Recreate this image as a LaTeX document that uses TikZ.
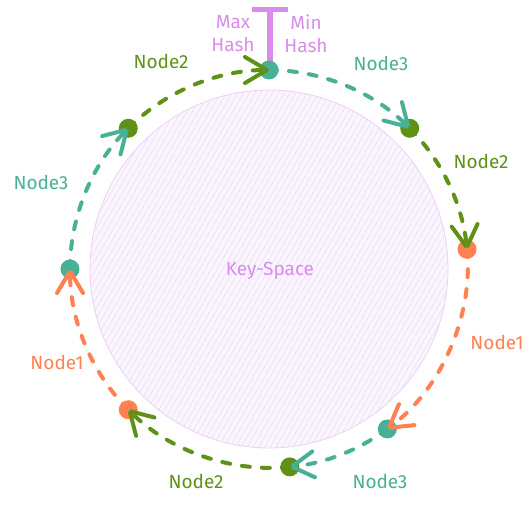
\documentclass[tikz,border=0pt]{standalone}
\usepackage{fontspec}
\setmainfont{Fira Sans}
\usetikzlibrary{arrows.meta,patterns.meta}
\definecolor{tealn}{HTML}{48B094}
\definecolor{oliven}{HTML}{5E9116}
\definecolor{coraln}{HTML}{FF8050}
\definecolor{lilac}{HTML}{D98CEC}
\definecolor{keyfill}{HTML}{FBF5FE}
\definecolor{keyline}{HTML}{F0CCF8}
\definecolor{keyhatch}{HTML}{E2DCF8}

\begin{document}
\begin{tikzpicture}[x=1pt,y=1pt,
  lbl/.style={font=\fontsize{19}{23}\selectfont},
  vdot/.style={circle,fill=#1,inner sep=0pt,minimum size=19pt},
  hop/.style={#1,line width=4pt,line cap=round,dash pattern=on 8pt off 12pt,
    -{Straight Barb[length=22pt,width=26pt,round]},looseness=0.87}]
\useasboundingbox (-269,-236) rectangle (263,269);
% key space
\draw[keyline,fill=keyfill,line width=0.8pt] (0,0) circle (179);
\fill[pattern={Lines[angle=60,distance=5pt,line width=0.5pt]},pattern color=keyhatch] (0,0) circle (178.5);
\node[lbl,text=lilac] (ks) at (1,-2) {Key-Space};
% max/min hash marker
\coordinate (tl) at (-17,259); \coordinate (tr) at (19,259); \coordinate (tm) at (1,259);
\draw[lilac,line width=5pt] (tl) -- (tr);
\draw[lilac,line width=6pt] (tm) -- (1,198);
\node[lbl,text=lilac,align=center] (maxh) at (-36,235) {Max\\Hash};
\node[lbl,text=lilac,align=center] (minh) at (37,235) {Min\\Hash};
% virtual nodes on the ring
\node[vdot=tealn] (v1) at (90:199) {};
\node[vdot=oliven] (v2) at (45:199) {};
\node[vdot=coraln] (v3) at (5.7:199) {};
\node[vdot=tealn] (v4) at (-53.5:199) {};
\node[vdot=oliven] (v5) at (-84:199) {};
\node[vdot=coraln] (v6) at (-135:199) {};
\node[vdot=tealn] (v7) at (180:199) {};
\node[vdot=oliven] (v8) at (135:199) {};
% ownership arcs
\draw[hop=tealn] (v1.center) to[bend left=22.5] (v2.center);
\draw[hop=oliven] (v2.center) to[bend left=19.6] (v3.center);
\draw[hop=coraln] (v3.center) to[bend left=29.6] (v4.center);
\draw[hop=tealn] (v4.center) to[bend left=15.2] (v5.center);
\draw[hop=oliven] (v5.center) to[bend left=25.5] (v6.center);
\draw[hop=coraln] (v6.center) to[bend left=22.5] (v7.center);
\draw[hop=tealn] (v7.center) to[bend left=22.5] (v8.center);
\draw[hop=oliven] (v8.center) to[bend left=22.5] (v1.center);
% labels
\node[lbl,text=tealn] (a12) at (112,206) {Node3};
\node[lbl,text=oliven] (a23) at (212,108) {Node2};
\node[lbl,text=coraln] (a34) at (228,-73) {Node1};
\node[lbl,text=tealn] (a45) at (111,-212) {Node3};
\node[lbl,text=oliven] (a56) at (-73,-212) {Node2};
\node[lbl,text=coraln] (a67) at (-212,-93) {Node1};
\node[lbl,text=tealn] (a78) at (-228,87) {Node3};
\node[lbl,text=oliven] (a81) at (-108,208) {Node2};
\end{tikzpicture}
\end{document}
